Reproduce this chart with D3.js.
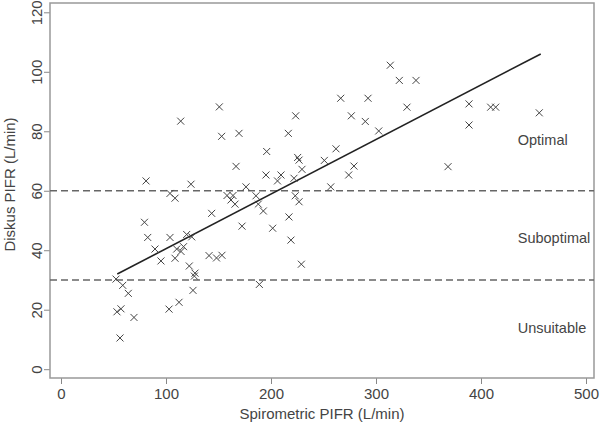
<!DOCTYPE html>
<html>
<head>
<meta charset="utf-8">
<script src="https://cdn.jsdelivr.net/npm/d3@7.9.0/dist/d3.min.js"></script>
<style>
  html, body { margin: 0; padding: 0; background: #fff; }
  svg { display: block; font-family: "Liberation Sans", Arial, sans-serif; }
</style>
</head>
<body>
<svg id="chart" width="600" height="427"></svg>
<script>
// spirometric PIFR (x) vs Diskus PIFR (y)
const spiroPIFR = [52.4, 58.8, 64.1, 53.3, 57.1, 69.5, 56.2, 102.9, 112.4, 125.7,
  122.2, 127.6, 127.0, 95.2, 89.5, 82.6, 79.5, 103.8, 119.7, 124.5,
  110.2, 116.7, 114.3, 108.6, 141.0, 148.1, 153.3, 81.0, 103.8, 108.6,
  123.8, 143.5, 158.1, 163.8, 161.9, 165.7, 172.4, 176.2, 185.7, 187.9,
  192.7, 188.9, 201.6, 206.2, 195.2, 209.5, 221.9, 223.1, 226.7, 217.1,
  219.0, 228.9, 229.5, 225.4, 226.7, 216.5, 223.5, 195.9, 166.7, 169.5,
  153.0, 150.8, 114.0, 256.9, 250.8, 261.9, 274.0, 279.0, 266.4, 276.5,
  289.8, 292.4, 302.6, 313.6, 322.2, 338.1, 329.5, 368.6, 388.6, 388.6,
  409.2, 414.0, 455.5];
const diskusPIFR = [30.3, 28.2, 25.5, 19.3, 20.3, 17.4, 10.5, 20.2, 22.5, 26.5,
  34.7, 32.3, 31.3, 36.4, 40.4, 44.3, 49.4, 44.3, 45.3, 44.5,
  40.4, 41.2, 39.6, 37.3, 38.2, 37.4, 38.3, 63.3, 59.1, 57.5,
  62.2, 52.4, 58.4, 58.4, 56.9, 55.5, 48.1, 61.3, 58.3, 55.5,
  53.2, 28.5, 47.4, 63.3, 65.3, 65.3, 64.2, 58.3, 56.3, 51.2,
  43.4, 35.3, 67.2, 71.2, 70.3, 79.3, 85.2, 73.2, 68.2, 79.3,
  78.3, 88.2, 83.4, 61.3, 70.2, 74.1, 65.3, 68.3, 91.1, 85.2,
  83.3, 91.1, 80.1, 102.2, 97.1, 97.1, 88.1, 68.1, 89.2, 82.1,
  88.1, 88.1, 86.2];

// fitted line end points
const fitX = [53.6, 456.9];
const fitY = [32.0, 106.0];

const thresholds = [60, 30];
const zoneLabels = ['Optimal', 'Suboptimal', 'Unsuitable'];
const zoneLabelY = [77, 44, 14];
const xTicks = [0, 100, 200, 300, 400, 500];
const yTicks = [0, 20, 40, 60, 80, 100, 120];

const svg = d3.select('#chart');
const frame = { left: 50, right: 594, top: 3, bottom: 378 };

const x = d3.scaleLinear().domain([0, 500]).range([61, 586]);
const y = d3.scaleLinear().domain([0, 120]).range([369.2, 12.3]);

// x axis
const xAxis = svg.append('g')
  .attr('transform', `translate(0,${frame.bottom})`)
  .call(d3.axisBottom(x).tickValues(xTicks).tickSize(6).tickPadding(4));
xAxis.select('.domain').remove();
xAxis.selectAll('line').attr('stroke', '#888');
xAxis.selectAll('text')
  .attr('font-size', 15)
  .attr('fill', '#444')
  .attr('font-family', '"Liberation Sans", Arial, sans-serif');

// y axis, labels turned on their side
const yAxis = svg.append('g')
  .attr('transform', `translate(${frame.left},0)`)
  .call(d3.axisLeft(y).tickValues(yTicks).tickSize(6));
yAxis.select('.domain').remove();
yAxis.selectAll('line').attr('stroke', '#888');
yAxis.selectAll('text')
  .attr('x', null)
  .attr('dy', null)
  .attr('text-anchor', 'middle')
  .attr('transform', 'translate(-8,0) rotate(-90)')
  .attr('font-size', 15)
  .attr('fill', '#444')
  .attr('font-family', '"Liberation Sans", Arial, sans-serif');

// frame
svg.append('rect')
  .attr('x', frame.left)
  .attr('y', frame.top)
  .attr('width', frame.right - frame.left)
  .attr('height', frame.bottom - frame.top)
  .attr('fill', 'none')
  .attr('stroke', '#999')
  .attr('stroke-width', 1.5);

// threshold lines
svg.selectAll('.thresh')
  .data(thresholds)
  .join('line')
  .attr('class', 'thresh')
  .attr('x1', frame.left)
  .attr('x2', frame.right)
  .attr('y1', (d) => y(d))
  .attr('y2', (d) => y(d))
  .attr('stroke', '#666')
  .attr('stroke-width', 1.3)
  .attr('stroke-dasharray', '7,4');

// zone labels
svg.selectAll('.zone')
  .data(zoneLabels)
  .join('text')
  .attr('class', 'zone')
  .attr('x', x(435))
  .attr('y', (d, i) => y(zoneLabelY[i]))
  .attr('dy', '0.35em')
  .attr('font-size', 14.5)
  .attr('fill', '#444')
  .text((d) => d);

// regression line
svg.append('line')
  .attr('x1', x(fitX[0]))
  .attr('y1', y(fitY[0]))
  .attr('x2', x(fitX[1]))
  .attr('y2', y(fitY[1]))
  .attr('stroke', '#222')
  .attr('stroke-width', 1.6);

// x markers
const points = spiroPIFR.map((v, i) => ({ sx: v, dy: diskusPIFR[i] }));
const s = 3.5;
svg.append('g')
  .selectAll('path')
  .data(points)
  .join('path')
  .attr('d', (d) => {
    const cx = x(d.sx), cy = y(d.dy);
    return `M${cx - s},${cy - s}L${cx + s},${cy + s}M${cx - s},${cy + s}L${cx + s},${cy - s}`;
  })
  .attr('stroke', '#444')
  .attr('stroke-width', 1)
  .attr('fill', 'none');

// axis titles
svg.append('text')
  .attr('x', (frame.left + frame.right) / 2)
  .attr('y', 419)
  .attr('text-anchor', 'middle')
  .attr('font-size', 15)
  .attr('fill', '#444')
  .text('Spirometric PIFR (L/min)');

svg.append('text')
  .attr('transform', `translate(15,${(frame.top + frame.bottom) / 2 - 6}) rotate(-90)`)
  .attr('text-anchor', 'middle')
  .attr('font-size', 15)
  .attr('fill', '#444')
  .text('Diskus PIFR (L/min)');
</script>
</body>
</html>
